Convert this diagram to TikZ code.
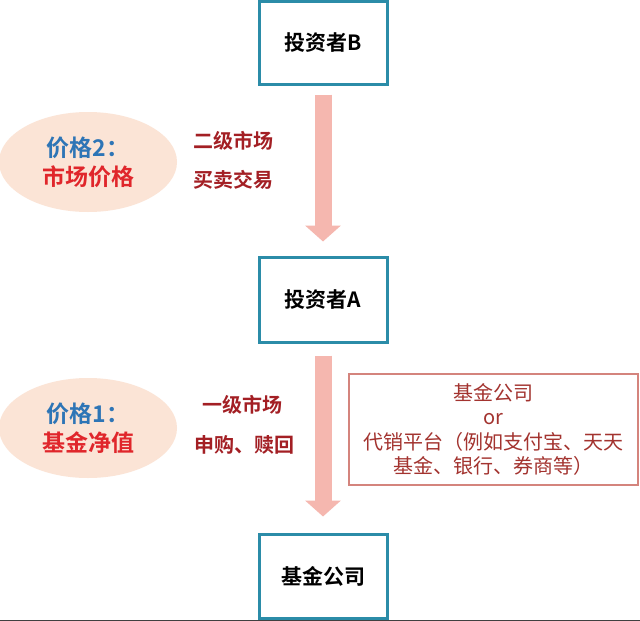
\documentclass[tikz,border=0pt]{standalone}
\usepackage{fontspec}
\setmainfont{Noto Sans CJK SC}[BoldFont={Noto Sans CJK SC Bold}]
\usetikzlibrary{shapes.geometric,arrows.meta}
\definecolor{teal1}{HTML}{2B8CA8}
\definecolor{pinkarrow}{HTML}{F5B7AF}
\definecolor{peach}{HTML}{FBE4D6}
\definecolor{blue1}{HTML}{2E75B6}
\definecolor{red1}{HTML}{E0262B}
\definecolor{darkred}{HTML}{A31F24}
\definecolor{boxred}{HTML}{D4847D}
\definecolor{textred}{HTML}{A3332F}
\begin{document}
\begin{tikzpicture}[x=1pt,y=-1pt,
  box/.style={draw=teal1, line width=3pt, fill=white, minimum width=128pt, inner sep=0pt,
    font=\fontsize{21}{24}\selectfont\bfseries},
  blockarrow/.style={draw=pinkarrow, line width=17pt,
    -{Triangle[width=35pt,length=16pt]}},
  priceell/.style={ellipse, fill=peach, minimum width=178pt, minimum height=100pt, inner sep=0pt,
    align=center, font=\fontsize{23}{29}\selectfont\bfseries},
  mlabel/.style={text=darkred, font=\fontsize{20}{22}\selectfont\bfseries, inner sep=0pt},
  infobox/.style={draw=boxred, line width=2pt, minimum width=289pt, minimum height=111pt,
    align=center, text=textred, font=\fontsize{20}{24.5}\selectfont, inner sep=0pt}
]
\useasboundingbox (0,0) rectangle (640,621);
\fill[white] (0,0) rectangle (640,621);

\node[box, minimum height=83pt] (B) at (323,42.5) {投资者B};
\node[box, minimum height=85pt] (A) at (323,299.5) {投资者A};
\node[box, minimum height=84pt] (C) at (323,576) {基金公司};

\draw[blockarrow] ([yshift=-9pt]B.south) -- ([yshift=14pt]A.north);
\draw[blockarrow] ([yshift=-12pt]A.south) -- ([yshift=16pt]C.north);

\node[priceell] (p2) at (88,162) {\textcolor{blue1}{价格2：}\\\textcolor{red1}{市场价格}};
\node[priceell] (p1) at (88,428) {\textcolor{blue1}{价格1：}\\\textcolor{red1}{基金净值}};

\node[mlabel] (l1) at (233,141) {二级市场};
\node[mlabel] (l2) at (233,180) {买卖交易};
\node[mlabel] (l3) at (242,405) {一级市场};
\node[mlabel] (l4) at (244,445) {申购、赎回};

\node[infobox] (info) at (493.5,429.5) {基金公司\\or\\代销平台（例如支付宝、天天\\基金、银行、券商等）};

\draw[black!75, line width=1.2pt] (0,620.4) -- (640,620.4);
\end{tikzpicture}
\end{document}
